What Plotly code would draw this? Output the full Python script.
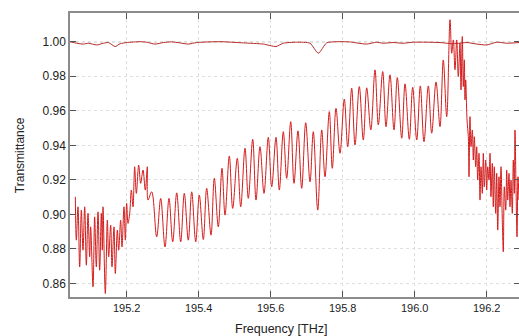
import plotly.graph_objects as go

# ---- data ----
main_freq = [
    195.0573, 195.0601, 195.0647, 195.0694, 195.0740, 195.0786, 195.0833, 195.0879,
    195.0925, 195.0971, 195.0999, 195.1064, 195.1110, 195.1156, 195.1203, 195.1249,
    195.1295, 195.1323, 195.1342, 195.1406, 195.1462, 195.1499, 195.1555, 195.1592,
    195.1647, 195.1684, 195.1740, 195.1777, 195.1832, 195.1869, 195.1925, 195.1962,
    195.1999, 195.2036, 195.2083, 195.2129, 195.2175, 195.2221, 195.2268, 195.2333,
    195.2388, 195.2453, 195.2517, 195.2573, 195.2592,
    195.2694, 195.2833, 195.2944, 195.3064, 195.3175, 195.3278, 195.3389, 195.3500,
    195.3600, 195.3711, 195.3806, 195.3917, 195.4017, 195.4128, 195.4222, 195.4342,
    195.4433, 195.4544, 195.4647, 195.4731, 195.4850, 195.4944, 195.5072, 195.5167,
    195.5286, 195.5378, 195.5500, 195.5592, 195.5703, 195.5814, 195.5933, 195.6028,
    195.6147, 195.6239, 195.6350, 195.6444, 195.6556, 195.6647, 195.6758, 195.6861,
    195.6972, 195.7092, 195.7183, 195.7306, 195.7417, 195.7508, 195.7628, 195.7711,
    195.7814, 195.7925, 195.8044, 195.8139, 195.8250, 195.8342, 195.8461, 195.8572,
    195.8667, 195.8781, 195.8897, 195.8989, 195.9111, 195.9203, 195.9314, 195.9425,
    195.9517, 195.9639, 195.9731, 195.9850, 195.9944, 196.0056, 196.0156, 196.0258,
    196.0378, 196.0472, 196.0592, 196.0703, 196.0794, 196.0889,
    196.0981, 196.1028, 196.1072, 196.1119, 196.1167, 196.1211, 196.1258, 196.1286,
    196.1322, 196.1350, 196.1378, 196.1397, 196.1417, 196.1453, 196.1489, 196.1508,
    196.1536, 196.1564, 196.1600, 196.1628, 196.1656, 196.1694, 196.1722, 196.1750,
    196.1786, 196.1814, 196.1842, 196.1878, 196.1906, 196.1933, 196.1972, 196.2000,
    196.2028, 196.2064, 196.2092, 196.2119, 196.2156, 196.2183, 196.2211, 196.2250,
    196.2278, 196.2306, 196.2342, 196.2369, 196.2397, 196.2433, 196.2461, 196.2489,
    196.2528, 196.2556, 196.2583, 196.2619, 196.2647, 196.2675, 196.2711, 196.2739,
    196.2767, 196.2786, 196.2814, 196.2842, 196.2869, 196.2897,
]
main_trans = [
    0.9102, 0.8851, 0.9044, 0.8696, 0.9025, 0.8793, 0.9044, 0.8706,
    0.9006, 0.8754, 0.8928, 0.8581, 0.8986, 0.8696, 0.9015, 0.8677,
    0.9006, 0.8793, 0.9044, 0.8542, 0.8967, 0.8754, 0.8938, 0.8696,
    0.8928, 0.8658, 0.8909, 0.8793, 0.8967, 0.8812, 0.9044, 0.8851,
    0.9064, 0.8948, 0.9006, 0.9141, 0.9044, 0.9276, 0.9122, 0.9286,
    0.9180, 0.9257, 0.9141, 0.9276, 0.9083,
    0.9131, 0.8870, 0.9093, 0.8812, 0.9093, 0.8841, 0.9125, 0.8841,
    0.9122, 0.8851, 0.9131, 0.8841, 0.9112, 0.8855, 0.9151, 0.8880,
    0.9209, 0.8928, 0.9267, 0.8996, 0.9338, 0.9035, 0.9325, 0.9044,
    0.9383, 0.9093, 0.9435, 0.9083, 0.9392, 0.9122, 0.9446, 0.9160,
    0.9446, 0.9141, 0.9479, 0.9209, 0.9537, 0.9180, 0.9484, 0.9151,
    0.9531, 0.9189, 0.9479, 0.9025, 0.9489, 0.9218, 0.9595, 0.9267,
    0.9614, 0.9354, 0.9668, 0.9392, 0.9730, 0.9402, 0.9740, 0.9431,
    0.9733, 0.9489, 0.9837, 0.9518, 0.9827, 0.9508, 0.9808, 0.9489,
    0.9792, 0.9441, 0.9756, 0.9435, 0.9736, 0.9431, 0.9744, 0.9421,
    0.9744, 0.9470, 0.9767, 0.9508, 0.9894, 0.9566,
    1.0127, 0.9933, 1.0010, 0.9837, 1.0010, 0.9798, 0.9991, 0.9721,
    1.0030, 0.9740, 0.9895, 0.9663, 0.9779, 0.9547, 0.9450, 0.9218,
    0.9566, 0.9392, 0.9489, 0.9315, 0.9450, 0.9276, 0.9392, 0.9199,
    0.9354, 0.9083, 0.9276, 0.9122, 0.9354, 0.9160, 0.9315, 0.9141,
    0.9276, 0.9199, 0.9354, 0.9102, 0.9296, 0.9044, 0.9276, 0.9006,
    0.9238, 0.8909, 0.9218, 0.9044, 0.9276, 0.8967, 0.8784, 0.9160,
    0.9025, 0.9257, 0.9083, 0.9238, 0.9044, 0.9199, 0.9006, 0.9315,
    0.9122, 0.9489, 0.9160, 0.8870, 0.9218, 0.9083,
]

ref_freq = [
    195.0425, 195.0611, 195.0797, 195.0936, 195.1168, 195.1353, 195.1492, 195.1678,
    195.1817, 195.2000, 195.2369, 195.2556, 195.2786, 195.3017, 195.3247, 195.3478,
    195.3711, 195.3944, 195.4592, 195.5239, 195.5794, 195.6147, 195.6350, 195.6722,
    195.7092, 195.7322, 195.7553, 195.7831, 195.8200, 195.8200, 195.8661, 195.8939,
    195.9122, 195.9400, 195.9678, 195.9956, 196.0325, 196.0703, 196.1072, 196.1453,
    196.1731, 196.2000, 196.2278, 196.2556, 196.2897,
]
ref_trans = [
    1.0000, 0.9991, 0.9986, 0.9991, 0.9981, 0.9991, 0.9995, 0.9972,
    0.9988, 0.9995, 1.0000, 0.9997, 0.9986, 0.9995, 0.9999, 0.9993,
    0.9986, 0.9995, 1.0000, 0.9993, 0.9986, 0.9972, 0.9991, 0.9997,
    0.9991, 0.9933, 0.9993, 1.0000, 0.9999, 0.9999, 0.9986, 0.9997,
    0.9991, 0.9995, 0.9991, 0.9997, 0.9997, 0.9995, 0.9988, 0.9995,
    0.9986, 0.9981, 0.9997, 0.9991, 0.9995,
]

x_ticks = [195.2, 195.4, 195.6, 195.8, 196.0, 196.2]
x_tick_labels = ["195.2", "195.4", "195.6", "195.8", "196.0", "196.2"]
y_ticks = [0.86, 0.88, 0.90, 0.92, 0.94, 0.96, 0.98, 1.00]
y_tick_labels = ["0.86", "0.88", "0.90", "0.92", "0.94", "0.96", "0.98", "1.00"]
dark_grid_levels = [0.86, 0.90, 1.00]

x_range = [195.0425, 196.2897]
y_range = [0.8522, 1.0166]

FONT = "Liberation Sans, Arial, sans-serif"

fig = go.Figure()
fig.add_trace(go.Scatter(x=ref_freq, y=ref_trans, mode="lines",
                         line=dict(color="#b52a2a", width=1, shape="spline", smoothing=0.6),
                         showlegend=False, hoverinfo="skip"))
fig.add_trace(go.Scatter(x=main_freq, y=main_trans, mode="lines",
                         line=dict(color="#d41c1c", width=1, shape="spline", smoothing=1.0),
                         showlegend=False, hoverinfo="skip"))
# invisible trace to drive the right-side tick axis
fig.add_trace(go.Scatter(x=[x_range[0]], y=[y_range[0]], yaxis="y2", mode="markers",
                         marker=dict(opacity=0), showlegend=False, hoverinfo="skip"))

for lvl in dark_grid_levels:
    fig.add_shape(type="line", xref="paper", x0=0, x1=1, yref="y", y0=lvl, y1=lvl,
                  line=dict(color="#666666", width=1, dash="dot"), layer="below")

fig.update_layout(
    width=519, height=336,
    margin=dict(l=70, r=0, t=13, b=39),
    paper_bgcolor="white", plot_bgcolor="white",
    font=dict(family=FONT, color="#222222"),
    xaxis=dict(range=x_range, tickvals=x_ticks, ticktext=x_tick_labels,
               ticks="inside", ticklen=6, tickcolor="#555555", tickwidth=1,
               showline=True, linecolor="#8c8c8c", linewidth=1.5, mirror="ticks",
               showgrid=True, gridcolor="#dddddd", griddash="dot", gridwidth=1,
               zeroline=False, tickfont=dict(size=11, family=FONT, color="#222222")),
    yaxis=dict(range=y_range, tickvals=y_ticks, ticktext=y_tick_labels,
               ticks="inside", ticklen=6, tickcolor="#555555", tickwidth=1,
               showline=True, linecolor="#8c8c8c", linewidth=1.5, mirror=False,
               showgrid=True, gridcolor="#e0e0e0", griddash="dot", gridwidth=1,
               zeroline=False, tickfont=dict(size=12, family=FONT, color="#222222")),
    yaxis2=dict(range=y_range, overlaying="y", side="right", tickvals=y_ticks,
                showticklabels=False, ticks="inside", ticklen=5, tickcolor="#555555",
                showline=False, showgrid=False, zeroline=False),
    annotations=[
        dict(text="Frequency [THz]", xref="paper", yref="paper", x=0.47, y=-0.113,
             xanchor="center", yanchor="middle", showarrow=False,
             font=dict(size=12.5, family=FONT, color="#222222")),
        dict(text="Transmittance", xref="paper", yref="paper", x=-0.111, y=0.5,
             xanchor="center", yanchor="middle", showarrow=False, textangle=-90,
             font=dict(size=12, family=FONT, color="#222222")),
    ],
)

fig.write_html("out.html")
